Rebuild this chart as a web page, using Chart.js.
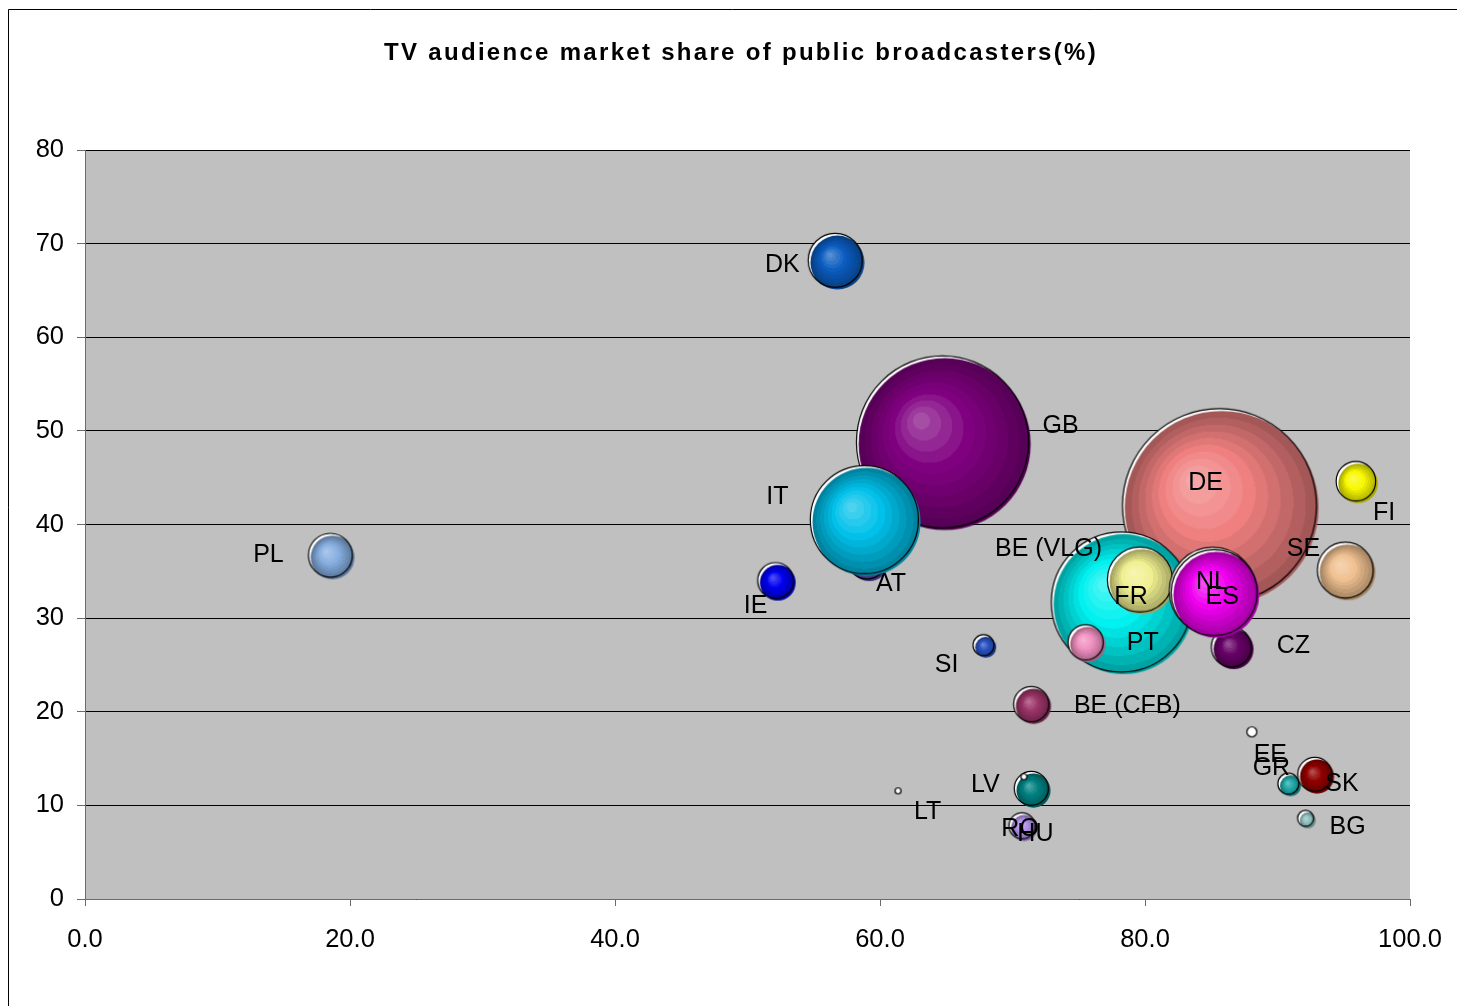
<!DOCTYPE html>
<html>
<head>
<meta charset="utf-8">
<title>TV audience market share of public broadcasters</title>
<script src="https://cdn.jsdelivr.net/npm/chart.js@4.4.1/dist/chart.umd.min.js"></script>
<style>
  html, body { margin: 0; padding: 0; background: #fff; overflow: hidden; }
  canvas { display: block; }
</style>
</head>
<body>
<canvas id="tvShareChart" width="1457" height="1006"></canvas>
<script>
// === TV audience market share bubble chart ===

const TITLE = 'TV audience market share of public broadcasters(%)';

// Countries, in drawing order (later ones sit on top)
const countries = ['PL', 'DK', 'AT', 'GB', 'IT', 'IE', 'DE', 'FI', 'SE', 'BE (VLG)', 'FR', 'PT', 'CZ',
  'NL', 'ES', 'SI', 'BE (CFB)', 'LV', 'HU', 'RO', 'LT', 'EE', 'GR', 'SK', 'BG'];

const xValues = [18.6, 56.7, 59.1, 64.8, 58.9, 52.2, 85.7, 96.0, 95.2, 78.3, 79.7, 75.6, 86.6,
  85.2, 85.3, 67.9, 71.5, 71.5, 70.9, 70.8, 61.4, 88.1, 90.9, 92.9, 92.2];

const yValues = [36.6, 68.1, 36.2, 48.7, 40.4, 33.9, 41.9, 44.5, 35.0, 31.6, 34.0, 27.3, 26.8,
  32.8, 32.6, 27.0, 20.7, 11.7, 13.0, 7.7, 11.5, 17.8, 12.2, 13.2, 8.5];

// bubble size (area units)
const sizeValues = [4.8, 7.3, 4.0, 74, 29.2, 3.2, 94, 3.9, 7.8, 49, 10.6, 3.1, 4.0,
  18.9, 18.5, 1.1, 3.1, 2.9, 0.09, 1.7, 0.09, 0.25, 1.1, 2.9, 0.64];

const xTickValues = [0, 20, 40, 60, 80, 100];
const yTickValues = [0, 10, 20, 30, 40, 50, 60, 70, 80];

// fill colour per bubble (null = outline only)
const bubbleColors = ['#86aee0', '#0a5cc0', '#5a4bb0', '#800080', '#00c0ea', '#0000f0', '#f08080',
  '#f8f800', '#f0c090', '#00f0f0', '#f0f090', '#f090c0', '#660066', '#e8609c', '#f000f0', '#2850c0',
  '#993366', '#008080', null, '#b090e8', null, null, '#20a8a8', '#900000', '#90c0c0'];

// label position relative to the bubble centre, px
const labelOffsets = [[-63, -1], [-54, 4], [23, 24], [117, -17], [-88, -24], [-21, 24], [-15, -24],
  [27, 31], [-43, -22], [-74, -54], [-10, 16], [56, 0], [61, -2], [-2, -10], [7, 3], [-38, 19],
  [95, 1], [-47, -4], [11, 57], [-3, 2], [29, 21], [18, 23], [-18, -17], [26, 9], [41, 8]];

const FONT = "'Liberation Sans', Arial, sans-serif";

function radiusFor(size) {
  return 10 * Math.sqrt(size);
}

function hexToRgb(hex) {
  const n = parseInt(hex.slice(1), 16);
  return [(n >> 16) & 255, (n >> 8) & 255, n & 255];
}

function mix(a, b, t) {
  return a.map((v, k) => Math.round(v + (b[k] - v) * t));
}

// t = 0 highlight, t = 1 rim
function shade(hex, t) {
  const base = hexToRgb(hex);
  const light = mix(base, [255, 255, 255], 0.3);
  const dark = mix(base, [0, 0, 0], 0.32);
  const c = t < 0.45 ? mix(light, base, t / 0.45) : mix(base, dark, (t - 0.45) / 0.55);
  return `rgb(${c[0]},${c[1]},${c[2]})`;
}

// 3D looking bubble: white halo + shaded ball + offset black outline
const imageCache = {};
function bubbleImage(i) {
  if (imageCache[i]) return imageCache[i];
  const r = radiusFor(sizeValues[i]);
  const s = Math.ceil(2 * (r + 5));
  const cv = document.createElement('canvas');
  cv.width = s;
  cv.height = s;
  const g = cv.getContext('2d');
  const m = s / 2;
  const sh = r > 6 ? 1.1 : 0.5;

  g.beginPath();
  g.arc(m - sh, m - sh, r, 0, Math.PI * 2);
  g.fillStyle = '#fff';
  g.fill();

  const color = bubbleColors[i];
  if (color) {
    const cx = m + sh, cy = m + sh;
    const grad = g.createRadialGradient(cx - r * 0.3, cy - r * 0.3, 0, cx, cy, r);
    const bands = 10;
    for (let k = 0; k < bands; k++) {
      const col = shade(color, k / (bands - 1));
      grad.addColorStop(k / bands, col);
      grad.addColorStop((k + 1) / bands - 0.001, col);
    }
    g.beginPath();
    g.arc(cx, cy, r, 0, Math.PI * 2);
    g.fillStyle = grad;
    g.fill();
  }

  g.beginPath();
  g.arc(m - sh, m - sh, r, 0, Math.PI * 2);
  g.strokeStyle = '#000';
  g.lineWidth = 1.2;
  g.stroke();

  imageCache[i] = cv;
  return cv;
}

const points = countries.map((c, i) => ({ x: xValues[i], y: yValues[i], r: radiusFor(sizeValues[i]) }));

// page frame, title and grey plot area
const backgroundPlugin = {
  id: 'background',
  beforeDraw(chart) {
    const { ctx, chartArea } = chart;
    ctx.save();
    ctx.fillStyle = '#fff';
    ctx.fillRect(0, 0, chart.width, chart.height);
    ctx.strokeStyle = '#000';
    ctx.lineWidth = 1;
    ctx.beginPath();
    ctx.moveTo(8.5, chart.height);
    ctx.lineTo(8.5, 9.5);
    ctx.lineTo(chart.width, 9.5);
    ctx.stroke();

    ctx.fillStyle = '#000';
    ctx.font = `bold 24px ${FONT}`;
    ctx.letterSpacing = '2.3px';
    ctx.textAlign = 'center';
    ctx.textBaseline = 'middle';
    ctx.fillText(TITLE, 741, 53);
    ctx.letterSpacing = '0px';

    ctx.fillStyle = '#c0c0c0';
    ctx.fillRect(chartArea.left, chartArea.top, chartArea.right - chartArea.left, chartArea.bottom - chartArea.top);
    ctx.restore();
  }
};

// country labels next to the bubbles
const labelPlugin = {
  id: 'countryLabels',
  afterDatasetsDraw(chart) {
    const { ctx } = chart;
    const meta = chart.getDatasetMeta(0);
    ctx.save();
    ctx.font = `25px ${FONT}`;
    ctx.fillStyle = '#000';
    ctx.textAlign = 'center';
    ctx.textBaseline = 'middle';
    meta.data.forEach((pt, i) => {
      const [dx, dy] = labelOffsets[i];
      ctx.fillText(countries[i], pt.x + dx, pt.y + dy);
    });
    ctx.restore();
  }
};

new Chart(document.getElementById('tvShareChart'), {
  type: 'bubble',
  data: {
    datasets: [{
      data: points,
      pointStyle: ctx => bubbleImage(ctx.dataIndex),
      backgroundColor: 'rgba(0,0,0,0)',
      borderWidth: 0
    }]
  },
  options: {
    responsive: false,
    animation: false,
    events: [],
    devicePixelRatio: 1,
    layout: { autoPadding: false, padding: { left: 0, right: 47, top: 150, bottom: 0 } },
    plugins: {
      legend: { display: false },
      tooltip: { enabled: false },
      title: { display: false }
    },
    scales: {
      x: {
        type: 'linear',
        min: 0,
        max: 100,
        afterFit: scale => {
          scale.height = 107;
          scale.paddingLeft = 0;
          scale.paddingRight = 0;
        },
        afterBuildTicks: scale => { scale.ticks = xTickValues.map(v => ({ value: v })); },
        ticks: {
          color: '#000',
          font: { family: FONT, size: 25.5 },
          padding: 19,
          callback: v => v.toFixed(1)
        },
        grid: { drawOnChartArea: false, drawTicks: true, tickLength: 7, tickColor: '#6b6b6b' },
        border: { color: '#6b6b6b', width: 1 }
      },
      y: {
        type: 'linear',
        min: 0,
        max: 80,
        afterFit: scale => {
          scale.width = 85;
          scale.paddingTop = 0;
          scale.paddingBottom = 0;
        },
        afterBuildTicks: scale => { scale.ticks = yTickValues.map(v => ({ value: v })); },
        ticks: {
          color: '#000',
          font: { family: FONT, size: 25.5 },
          padding: 13
        },
        grid: { color: '#000', lineWidth: 1, drawTicks: true, tickLength: 8, tickColor: '#6b6b6b' },
        border: { color: '#6b6b6b', width: 1 }
      }
    }
  },
  plugins: [backgroundPlugin, labelPlugin]
});
</script>
</body>
</html>
